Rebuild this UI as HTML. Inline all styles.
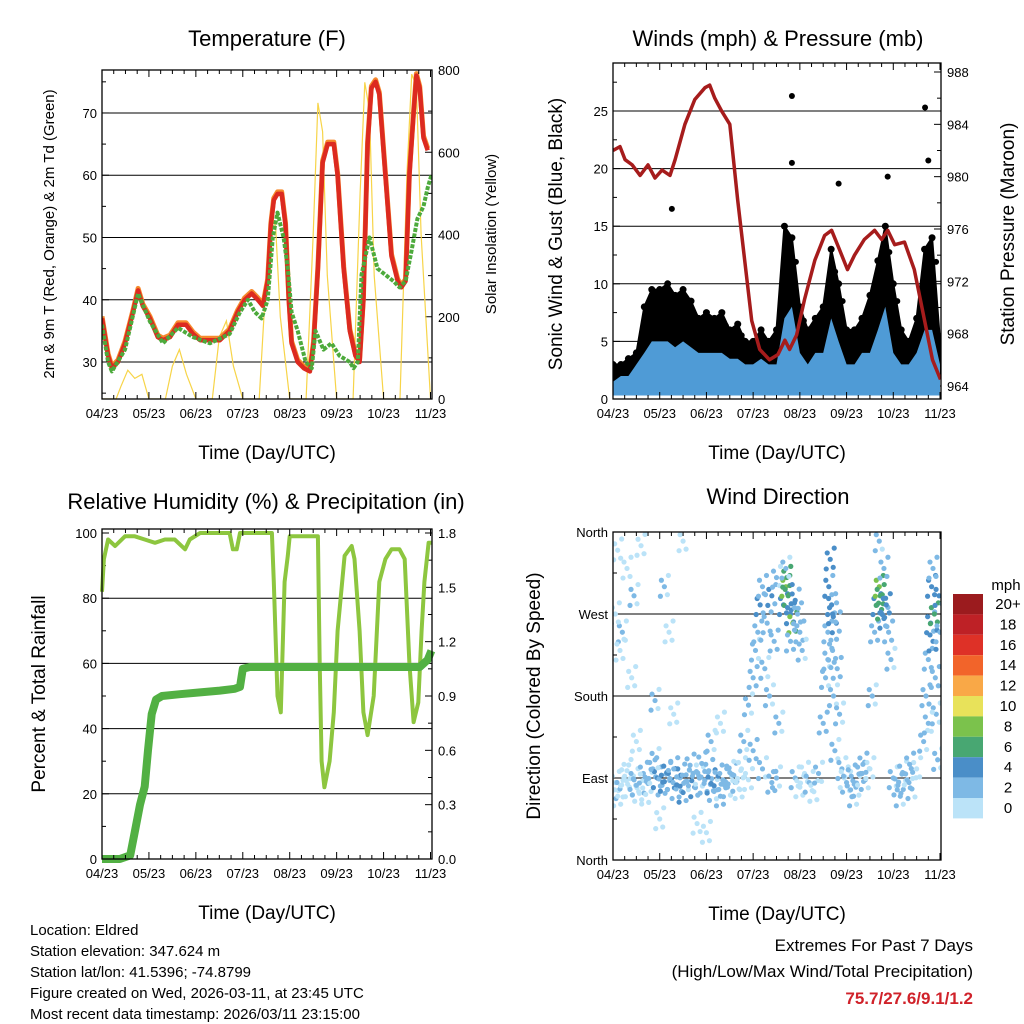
<!DOCTYPE html>
<html><head><meta charset="utf-8"><style>
html,body{margin:0;padding:0;background:#fff}
svg{display:block;font-family:"Liberation Sans",sans-serif}
</style></head><body>
<svg id="c" width="1024" height="1024" xmlns="http://www.w3.org/2000/svg"></svg>
<script>
// ---------- DATA ----------
const dayTicks = ["04/23","05/23","06/23","07/23","08/23","09/23","10/23","11/23"];
// Temperature (days, F)
const tempT = [0,0.13,0.21,0.34,0.49,0.66,0.77,0.87,1.02,1.19,1.3,1.45,1.62,1.79,1.94,2.09,2.3,2.51,2.72,2.89,3.04,3.19,3.32,3.43,3.53,3.6,3.66,3.74,3.83,3.91,3.98,4.04,4.17,4.3,4.43,4.51,4.6,4.7,4.81,4.94,5.02,5.15,5.28,5.4,5.49,5.57,5.66,5.74,5.83,5.91,6.04,6.17,6.3,6.38,6.47,6.55,6.64,6.7,6.77,6.85,6.94];
const tempV = [37,31,29,30,33,38,41.5,39,37,34,33.5,34,36,36,34.5,33.5,33.5,33.5,35,38,40,41,40,39,43,52,56,57,57,52,40,33,30,29,28.5,33,45,62,65,65,60,45,35,31,30,40,65,74,75,73,60,47,43,42,43,60,70,76,74,66,64];
const dewT = [0,0.13,0.21,0.49,0.77,1.02,1.3,1.62,1.94,2.3,2.72,2.94,3.11,3.26,3.4,3.53,3.64,3.74,3.87,3.96,4.04,4.17,4.34,4.47,4.55,4.72,4.89,5.06,5.28,5.36,5.45,5.53,5.7,5.87,6.04,6.21,6.34,6.47,6.6,6.72,6.85,6.94,7.02];
const dewV = [36,30,28.5,32,41,36.5,33,35.5,34,33,34.5,38,40,38,37,40,50,54,50,45,38,35,30,29,35,32,33,31,30,29,30,44,50,45,44,43,42,43,48,53,55,58,60];
const solT = [0,0.3,0.4,0.55,0.7,0.85,1.0,1.35,1.5,1.65,1.8,2.0,2.35,2.5,2.65,2.8,3.0,3.35,3.5,3.6,3.7,3.8,4.0,4.35,4.5,4.6,4.7,4.8,5.0,5.35,5.5,5.6,5.7,5.8,6.0,6.35,6.5,6.6,6.7,6.8,7.0];
const solV = [0,0,30,70,50,60,0,0,80,120,60,0,0,150,190,80,0,0,300,450,420,200,0,0,400,720,650,300,0,0,500,770,700,300,0,0,550,790,760,400,0];
// Winds (days, mph)
const windT = [0,0.17,0.33,0.5,0.67,0.83,1,1.17,1.33,1.5,1.67,1.83,2,2.17,2.33,2.5,2.67,2.83,3,3.17,3.33,3.5,3.67,3.83,4,4.17,4.33,4.5,4.67,4.83,5,5.17,5.33,5.5,5.67,5.83,6,6.17,6.33,6.5,6.67,6.83,7];
const gustV = [3,3,3.5,4,8,9.5,9.5,10,9,9.5,8.5,7,7.5,7,7.5,6,6.5,5,5,6,5,6,15,14,8,6,7,8,13,10,6,6,7,9,12,15,10,6,5,7,13,14,5];
const windV = [1.5,2,2,3,4,5,5,5,4.5,5,4.5,4,4,4,4,3.5,3.5,3,3,3.5,3,3,7,8,4,3,4,4,7,5,3,3,4,4,6,8,4,3,3,4,6,6,3];
const gustOutT = [3.83,3.83,1.26,4.83,5.88,6.68,6.75];
const gustOutV = [26.3,20.5,16.5,18.7,19.3,25.3,20.7];
const presT = [0,0.15,0.26,0.41,0.58,0.75,0.9,1.05,1.22,1.33,1.54,1.75,1.97,2.07,2.18,2.33,2.5,2.67,2.82,2.97,3.14,3.35,3.53,3.68,3.78,3.93,4.1,4.32,4.53,4.68,4.85,5.02,5.17,5.38,5.6,5.75,5.88,6.03,6.24,6.45,6.67,6.84,7.01];
const presV = [982,982.3,981.3,980.9,980.1,980.9,979.9,980.5,980.1,981.3,984,985.9,986.8,987,986,985,984,978.2,973.6,969,966.8,966,966.4,967.5,966.8,967.9,970.6,973.6,975.5,975.9,974.4,972.9,974,975.2,975.9,975.2,975.9,974.8,975,972.9,969,966,964.5];
// RH (%) and precip (in)
const rhT = [0,0.04,0.13,0.28,0.49,0.7,0.91,1.13,1.34,1.55,1.77,1.87,2.09,2.72,2.79,2.87,2.94,3.62,3.66,3.74,3.81,3.89,3.96,4.0,4.6,4.64,4.68,4.74,4.85,4.94,5.02,5.17,5.32,5.38,5.49,5.57,5.66,5.79,5.91,6.04,6.17,6.34,6.45,6.55,6.64,6.74,6.81,6.87,6.96,7.02];
const rhV = [82,92,98,96,99,99,98,97,98,98,95,98,100,100,95,95,100,100,85,50,45,85,93,99,99,60,30,22,30,45,70,93,96,92,70,45,38,50,85,92,95,95,92,60,42,48,70,85,97,97];
const prT = [0,0.38,0.6,0.7,0.81,0.91,0.98,1.06,1.15,1.28,1.66,2.09,2.51,2.83,2.94,3.0,3.15,4.21,5.28,6.77,6.94,7.02];
const prV = [0,0,0.02,0.15,0.3,0.4,0.6,0.8,0.88,0.9,0.91,0.92,0.93,0.94,0.95,1.05,1.06,1.06,1.06,1.06,1.1,1.15];
// Wind direction (days, degrees, mph)
const dirT = [0.05,0.15,0.25,0.35,0.45,0.55,0.65,0.75,0.85,0.95,1.05,1.15,1.25,1.35,1.45,1.55,1.65,1.75,1.85,1.95,2.05,2.15,2.25,2.35,2.45,2.55,2.65,2.75,
0.1,0.3,0.5,0.7,0.9,1.1,1.3,1.5,1.7,1.9,2.1,2.3,2.5,2.7,2.9,
0.1,0.3,0.2,0.4,0.5,0.6,0.45,1.1,1.2,1.5,0.9,1.3,2.1,2.3,0.05,0.15,1.8,2.0,1.0,
2.8,2.9,3.0,3.05,3.1,3.15,3.2,3.25,3.3,3.35,3.4,3.45,3.5,3.55,3.0,3.2,3.4,3.5,
3.65,3.7,3.72,3.75,3.8,3.85,3.9,3.95,4.0,4.05,3.7,3.8,3.9,4.0,4.1,4.2,4.3,4.4,
4.5,4.55,4.6,4.62,4.65,4.68,4.7,4.72,4.75,4.78,4.8,4.85,4.9,4.95,4.7,4.6,
5.0,5.1,5.2,5.3,5.4,5.5,5.15,5.35,
5.55,5.6,5.65,5.7,5.72,5.75,5.8,5.85,5.9,5.95,5.7,5.8,
6.0,6.1,6.2,6.3,6.4,6.5,6.15,6.35,
6.65,6.7,6.75,6.8,6.82,6.85,6.88,6.9,6.92,6.95,6.98,7.0,6.75,6.85];
const dirV = [85,78,92,80,88,75,95,84,100,90,82,96,88,78,93,86,104,80,90,84,98,76,92,88,80,94,86,100,
70,98,82,72,110,86,100,74,92,106,84,70,96,78,88,
340,320,250,200,130,345,290,300,250,350,175,160,130,150,270,230,40,30,45,
130,170,200,230,250,280,300,210,260,180,290,240,310,150,120,100,85,90,
280,300,310,290,270,260,285,270,250,230,320,240,90,80,95,85,75,95,
150,200,250,300,330,280,230,180,120,260,210,160,100,90,270,220,
85,92,80,95,88,100,70,105,
180,250,280,300,290,275,265,280,250,220,350,320,
90,82,96,88,78,100,70,105,
130,180,220,260,300,240,270,200,160,110,290,250,150,320];
const dirS = [1,2,1,1,2,1,3,2,3,4,3,4,5,3,4,2,3,4,2,3,3,2,4,3,2,3,2,1,
1,1,2,1,2,4,3,4,2,3,4,3,2,1,1,
1,0,2,1,1,1,2,2,1,1,2,1,2,1,1,1,1,1,1,
2,2,3,2,3,4,3,2,3,2,4,3,2,2,3,2,3,2,
5,8,7,6,5,8,4,3,3,2,2,3,2,1,1,2,1,2,
3,2,3,4,5,4,3,2,2,4,3,2,2,1,4,3,
2,3,2,3,2,1,2,3,
2,3,5,8,7,6,4,5,3,2,2,3,
2,3,2,3,2,1,2,3,
2,3,3,4,5,5,7,3,2,2,4,3,2,3];
const cbLabels = ["20+","18","16","14","12","10","8","6","4","2","0"];
const cbColors = ["#9b1b1e","#be2126","#de3127","#f2642a","#f9a847","#e8e25a","#7bc24c","#48a772","#4a8ec8","#7eb9e5","#bbe3f8"];

// ---------- HELPERS ----------
const NS="http://www.w3.org/2000/svg";
const svg=document.getElementById('c');
function el(tag,attrs,parent){const e=document.createElementNS(NS,tag);for(const k in attrs)e.setAttribute(k,attrs[k]);(parent||svg).appendChild(e);return e;}
function txt(s,x,y,size,anchor,parent,extra){const t=el('text',Object.assign({x:x,y:y,'font-size':size,'text-anchor':anchor||'middle',fill:'#000'},extra||{}),parent);t.textContent=s;return t;}
function lin(d0,d1,r0,r1){return v=>r0+(v-d0)/(d1-d0)*(r1-r0);}
function poly(T,V,sx,sy){return T.map((t,i)=>sx(t).toFixed(1)+","+sy(V[i]).toFixed(1)).join(" ");}

function frame(g,x0,y0,x1,y1,sx,name){
  const r=el('rect',{x:x0,y:y0,width:x1-x0,height:y1-y0,fill:'none',stroke:'#000','stroke-width':1.3},g);
  
  
  dayTicks.forEach((lab,i)=>{
    const x=sx(i);
    el('line',{x1:x,y1:y1,x2:x,y2:y1-7,stroke:'#000','stroke-width':1},g);
    el('line',{x1:x,y1:y0,x2:x,y2:y0+7,stroke:'#000','stroke-width':1},g);
    const t=txt(lab,x,y1+19,13,'middle',g);
    
    
    if(i<7){for(let k=1;k<4;k++){const xm=sx(i+k/4);
      el('line',{x1:xm,y1:y1,x2:xm,y2:y1-4,stroke:'#000','stroke-width':1},g);
      el('line',{x1:xm,y1:y0,x2:xm,y2:y0+4,stroke:'#000','stroke-width':1},g);}}
  });
  const xt=txt("Time (Day/UTC)",(x0+x1)/2,y1+60,19,'middle',g);
  
  
}
function yTicks(g,vals,labels,sy,x,side,grid,x0,x1,minor){
  vals.forEach((v,i)=>{
    const y=sy(v);
    if(grid) el('line',{x1:x0,y1:y,x2:x1,y2:y,stroke:'#000','stroke-width':1},g);
    el('line',{x1:x,y1:y,x2:x+(side<0?7:-7),y2:y,stroke:'#000','stroke-width':1},g);
    const t=txt(labels[i],side<0?x-5:x+6,y+5,13,side<0?'end':'start',g);
    
    
  });
  (minor||[]).forEach(v=>{const y=sy(v);el('line',{x1:x,y1:y,x2:x+(side<0?4:-4),y2:y,stroke:'#000','stroke-width':1},g);});
}
function group(name){const g=el('g',{});return g;}
function rotTitle(g,s,x,y,size){const t=txt(s,x,y,size,'middle',g,{transform:`rotate(-90 ${x} ${y})`});return t;}

// ---------- PANEL 1: TEMPERATURE ----------
(function(){
  const g=group('temperature-panel');
  const X0=102,X1=432,Y0=70,Y1=399;
  const sx=lin(0,7,X0,X1-1.5), sy=lin(24.06,76.9,Y1,Y0), ss=lin(0,800,Y1,Y0);
  const t=txt("Temperature (F)",267,46,22,'middle',g);
  yTicks(g,[30,40,50,60,70],["30","40","50","60","70"],sy,X0,-1,true,X0,X1,[25,35,45,55,65,75]);
  yTicks(g,[0,200,400,600,800],["0","200","400","600","800"],ss,X1,1,false,0,0,[100,300,500,700]);
  const cp=el('clipPath',{id:'cp1'},g);el('rect',{x:X0,y:Y0,width:X1-X0,height:Y1-Y0},cp);
  const d=el('g',{'clip-path':'url(#cp1)'},g);
  let p=el('polyline',{points:poly(solT,solV,sx,ss),fill:'none',stroke:'#f7d448','stroke-width':1.2},d);
  
  p=el('polyline',{points:poly(tempT,tempV,sx,v=>sy(v)-2),fill:'none',stroke:'#f68a2c','stroke-width':5,'stroke-linejoin':'round'},d);
  
  p=el('polyline',{points:poly(tempT,tempV,sx,sy),fill:'none',stroke:'#dc2a20','stroke-width':4.5,'stroke-linejoin':'round'},d);
  
  p=el('polyline',{points:poly(dewT,dewV,sx,sy),fill:'none',stroke:'#4daa3c','stroke-width':4,'stroke-dasharray':'4 1.5','stroke-linejoin':'round'},d);
  
  frame(g,X0,Y0,X1,Y1,sx,'temperature');
  let a=rotTitle(g,"2m & 9m T (Red, Orange) & 2m Td (Green)",54,234,15);
  a=rotTitle(g,"Solar Insolation (Yellow)",496,234,15);
})();

// ---------- PANEL 2: WINDS ----------
(function(){
  const g=group('winds-panel');
  const X0=613,X1=941,Y0=63,Y1=399;
  const sx=lin(0,7,X0,X1-1), sy=lin(0,25,Y1,111), sp=lin(964,988,386,72);
  const t=txt("Winds (mph) & Pressure (mb)",778,46,22,'middle',g);
  yTicks(g,[0,5,10,15,20,25],["0","5","10","15","20","25"],sy,X0,-1,true,X0,X1,[2.5,7.5,12.5,17.5,22.5,27.5]);
  yTicks(g,[964,968,972,976,980,984,988],["964","968","972","976","980","984","988"],sp,X1,1,false,0,0,[966,970,974,978,982,986]);
  const cp=el('clipPath',{id:'cp2'},g);el('rect',{x:X0,y:Y0,width:X1-X0,height:Y1-Y0},cp);
  const d=el('g',{'clip-path':'url(#cp2)'},g);
  const band=windT.map((t,i)=>sx(t).toFixed(1)+","+sy(gustV[i]).toFixed(1)).concat(windT.slice().reverse().map((t,j)=>{const i=windT.length-1-j;return sx(t).toFixed(1)+","+sy(windV[i]*0.6).toFixed(1);})).join(" ");
  let p=el('polygon',{points:band,fill:'#000','stroke':'#000','stroke-width':2,'stroke-linejoin':'round'},d);
  
  windT.forEach((t,i)=>{
    const c=el('circle',{cx:sx(t),cy:sy(gustV[i]),r:3.5,fill:'#000'},d);
    
    
    const c2=el('circle',{cx:sx(t)+4,cy:sy(gustV[i]*0.85),r:3,fill:'#000'},d);
    
    
  });
  gustOutT.forEach((t,i)=>{const c=el('circle',{cx:sx(t),cy:sy(gustOutV[i]),r:3,fill:'#000'},d);
    
    });
  const wb=windT.map((t,i)=>sx(t).toFixed(1)+","+sy(windV[i]).toFixed(1)).concat(windT.slice().reverse().map(t=>sx(t).toFixed(1)+","+sy(0.3).toFixed(1))).join(" ");
  p=el('polygon',{points:wb,fill:'#4f9bd6'},d);
  
  p=el('polyline',{points:poly(presT,presV,sx,sp),fill:'none',stroke:'#a61c1c','stroke-width':3.5,'stroke-linejoin':'round'},d);
  
  frame(g,X0,Y0,X1,Y1,sx,'winds');
  let a=rotTitle(g,"Sonic Wind & Gust (Blue, Black)",562,234,19);
  a=rotTitle(g,"Station Pressure (Maroon)",1014,234,19);
})();

// ---------- PANEL 3: RH & PRECIP ----------
(function(){
  const g=group('humidity-panel');
  const X0=102,X1=432,Y0=529,Y1=859;
  const sx=lin(0,7,X0,X1-1.5), sy=lin(0,100,Y1,533), sp=lin(0,1.8,Y1,533);
  const t=txt("Relative Humidity (%) & Precipitation (in)",266,509,22,'middle',g);
  yTicks(g,[0,20,40,60,80,100],["0","20","40","60","80","100"],sy,X0,-1,false,0,0,[10,30,50,70,90]);
  [20,40,60,80].forEach(v=>el('line',{x1:X0,y1:sy(v),x2:X1,y2:sy(v),stroke:'#000','stroke-width':1},g));
  yTicks(g,[0,0.3,0.6,0.9,1.2,1.5,1.8],["0.0","0.3","0.6","0.9","1.2","1.5","1.8"],sp,X1,1,false,0,0,[0.15,0.45,0.75,1.05,1.35,1.65]);
  const cp=el('clipPath',{id:'cp3'},g);el('rect',{x:X0-4,y:Y0,width:X1-X0+8,height:Y1-Y0+4},cp);
  const d=el('g',{'clip-path':'url(#cp3)'},g);
  let p=el('polyline',{points:poly(rhT,rhV,sx,sy),fill:'none',stroke:'#8dc63f','stroke-width':4,'stroke-linejoin':'round'},d);
  
  p=el('polyline',{points:poly(prT,prV,sx,sp),fill:'none',stroke:'#52b043','stroke-width':8,'stroke-linejoin':'round'},d);
  
  frame(g,X0,Y0,X1,Y1,sx,'humidity');
  let a=rotTitle(g,"Percent & Total Rainfall",45,694,19);
})();

// ---------- PANEL 4: WIND DIRECTION ----------
(function(){
  const g=group('wind-direction-panel');
  const X0=613,X1=941,Y0=532,Y1=860;
  const sx=lin(0,7,X0,X1-1), sy=lin(0,360,Y1,Y0);
  const t=txt("Wind Direction",778,504,22,'middle',g);
  yTicks(g,[0,90,180,270,360],["North","East","South","West","North"],sy,X0,-1,false,0,0,[45,135,225,315]);
  [90,180,270].forEach(v=>el('line',{x1:X0,y1:sy(v),x2:X1,y2:sy(v),stroke:'#000','stroke-width':1},g));
  const cp=el('clipPath',{id:'cp4'},g);el('rect',{x:X0,y:Y0,width:X1-X0,height:Y1-Y0},cp);
  const d=el('g',{'clip-path':'url(#cp4)'},g);
  const colOf=s=>cbColors[10-Math.min(10,Math.floor(s/2))];
  const offs=[[0,0],[3,5],[-3,-4],[4,-7],[-4,6]];
  dirT.forEach((t,i)=>{
    offs.forEach((o,k)=>{
      const c=el('circle',{cx:sx(t)+o[0],cy:sy(dirV[i])+o[1]*(k?1.6:0),r:2.6,fill:colOf(k?Math.max(0,dirS[i]-1+((k%2)?0:1)):dirS[i])},d);
      
      
    });
  });
  frame(g,X0,Y0,X1,Y1,sx,'wind-direction');
  let a=rotTitle(g,"Direction (Colored By Speed)",540,696,19);
  // colorbar
  const cb=group('speed-colorbar');
  const m=txt("mph",1006,590,15,'middle',cb);
  cbColors.forEach((c,i)=>{
    const r=el('rect',{x:953,y:594+i*20.4,width:30,height:20.4,fill:c},cb);
    
    
    const l=txt(cbLabels[i],1008,609+i*20.4,15,'middle',cb);
    
    
  });
})();

// ---------- FOOTER TEXT ----------
(function(){
  const g=group('station-info');
  ["Location: Eldred","Station elevation: 347.624 m","Station lat/lon: 41.5396; -74.8799","Figure created on Wed, 2026-03-11, at 23:45 UTC","Most recent data timestamp: 2026/03/11 23:15:00"].forEach((s,i)=>{
    const t=txt(s,30,935+i*21,15,'start',g);
    
    
  });
  const h=group('extremes-summary');
  let t=txt("Extremes For Past 7 Days",973,951,17,'end',h);
  t=txt("(High/Low/Max Wind/Total Precipitation)",973,977,17,'end',h);
  t=txt("75.7/27.6/9.1/1.2",973,1004,17,'end',h,{fill:'#d0222a','font-weight':'bold'});
})();
</script>
</body></html>
